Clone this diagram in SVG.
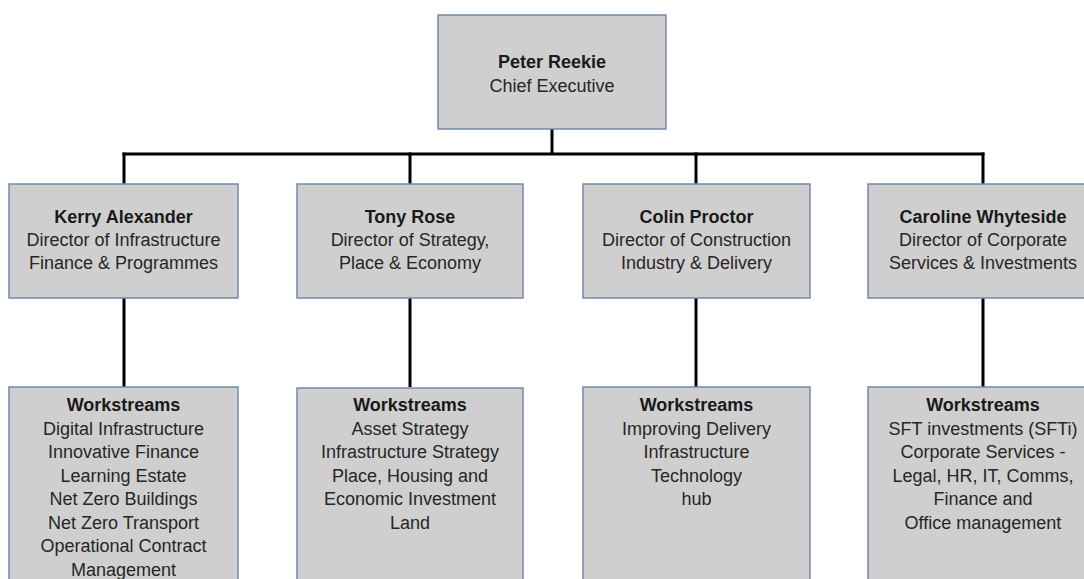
<svg xmlns="http://www.w3.org/2000/svg" width="1084" height="579" viewBox="0 0 1084 579">
  <style>
    .box { fill: #d0cfcf; stroke: #7389ad; stroke-width: 1.5; }
    .link { stroke: #000; stroke-width: 3; fill: none; }
    text { font-family: "Liberation Sans", Arial, sans-serif; font-size: 18px; fill: #262626; text-anchor: middle; }
    .b { font-weight: bold; fill: #1a1a1a; }
  </style>
  <rect width="1084" height="579" fill="#fff"/>

  <g id="connectors">
    <line class="link" x1="552" y1="129" x2="552" y2="154"/>
    <line class="link" x1="122.5" y1="154" x2="984.5" y2="154"/>
    <line class="link" x1="124" y1="152.5" x2="124" y2="184"/>
    <line class="link" x1="410" y1="152.5" x2="410" y2="184"/>
    <line class="link" x1="696" y1="152.5" x2="696" y2="184"/>
    <line class="link" x1="983" y1="152.5" x2="983" y2="184"/>
    <line class="link" x1="124" y1="298" x2="124" y2="387"/>
    <line class="link" x1="410" y1="298" x2="410" y2="387"/>
    <line class="link" x1="696" y1="298" x2="696" y2="387"/>
    <line class="link" x1="983" y1="298" x2="983" y2="387"/>
  </g>

  <g id="ceo">
    <rect class="box" x="438" y="15" width="228" height="114"/>
    <text x="552" y="68" class="b">Peter Reekie</text>
    <text x="552" y="92">Chief Executive</text>
  </g>

  <g id="kerry">
    <rect class="box" x="9" y="184" width="229" height="114"/>
    <text x="123.5" y="223" class="b">Kerry Alexander</text>
    <text x="123.5" y="246">Director of Infrastructure</text>
    <text x="123.5" y="269">Finance &amp; Programmes</text>
  </g>

  <g id="tony">
    <rect class="box" x="297" y="184" width="226" height="114"/>
    <text x="410" y="223" class="b">Tony Rose</text>
    <text x="410" y="246">Director of Strategy,</text>
    <text x="410" y="269">Place &amp; Economy</text>
  </g>

  <g id="colin">
    <rect class="box" x="583" y="184" width="227" height="114"/>
    <text x="696.5" y="223" class="b">Colin Proctor</text>
    <text x="696.5" y="246">Director of Construction</text>
    <text x="696.5" y="269">Industry &amp; Delivery</text>
  </g>

  <g id="caroline">
    <rect class="box" x="868" y="184" width="230" height="114"/>
    <text x="983" y="223" class="b">Caroline Whyteside</text>
    <text x="983" y="246">Director of Corporate</text>
    <text x="983" y="269">Services &amp; Investments</text>
  </g>

  <g id="kerry-workstreams">
    <rect class="box" x="9" y="387" width="229" height="200"/>
    <text x="123.5" y="411" class="b">Workstreams</text>
    <text x="123.5" y="434.5">Digital Infrastructure</text>
    <text x="123.5" y="458">Innovative Finance</text>
    <text x="123.5" y="481.5">Learning Estate</text>
    <text x="123.5" y="505">Net Zero Buildings</text>
    <text x="123.5" y="528.5">Net Zero Transport</text>
    <text x="123.5" y="552">Operational Contract</text>
    <text x="123.5" y="575.5">Management</text>
  </g>

  <g id="tony-workstreams">
    <rect class="box" x="297" y="388" width="226" height="200"/>
    <text x="410" y="411" class="b">Workstreams</text>
    <text x="410" y="434.5">Asset Strategy</text>
    <text x="410" y="458">Infrastructure Strategy</text>
    <text x="410" y="481.5">Place, Housing and</text>
    <text x="410" y="505">Economic Investment</text>
    <text x="410" y="528.5">Land</text>
  </g>

  <g id="colin-workstreams">
    <rect class="box" x="583" y="387" width="227" height="200"/>
    <text x="696.5" y="411" class="b">Workstreams</text>
    <text x="696.5" y="434.5">Improving Delivery</text>
    <text x="696.5" y="458">Infrastructure</text>
    <text x="696.5" y="481.5">Technology</text>
    <text x="696.5" y="505">hub</text>
  </g>

  <g id="caroline-workstreams">
    <rect class="box" x="868" y="387" width="230" height="200"/>
    <text x="983" y="411" class="b">Workstreams</text>
    <text x="983" y="434.5">SFT investments (SFTi)</text>
    <text x="983" y="458">Corporate Services -</text>
    <text x="983" y="481.5">Legal, HR, IT, Comms,</text>
    <text x="983" y="505">Finance and</text>
    <text x="983" y="528.5">Office management</text>
  </g>
</svg>
